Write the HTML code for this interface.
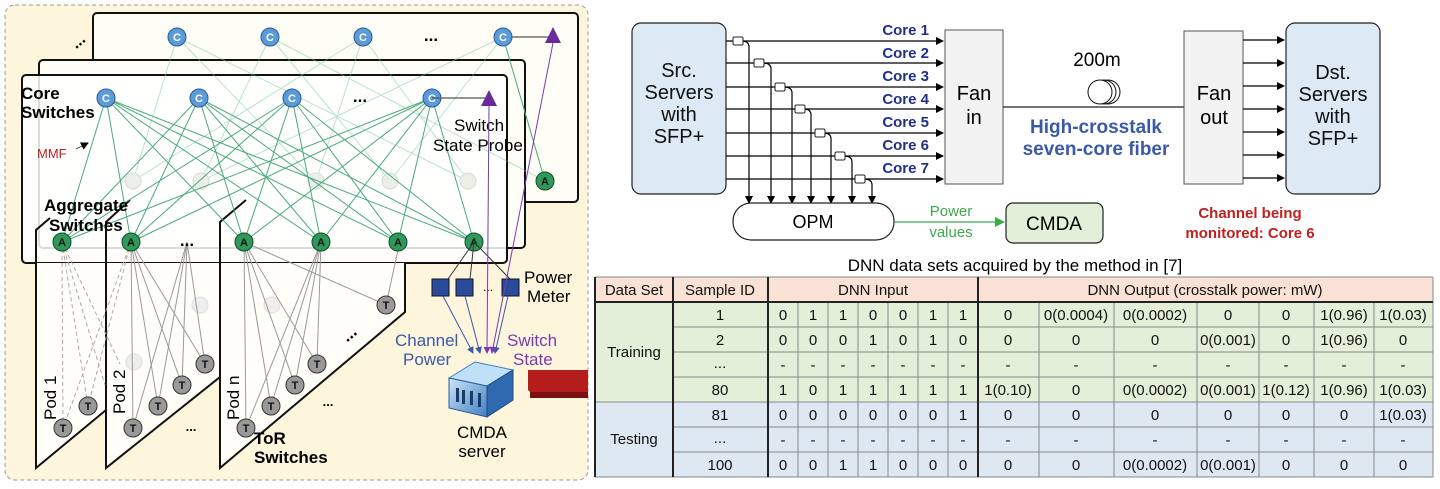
<!DOCTYPE html>
<html><head><meta charset="utf-8"><style>
html,body{margin:0;padding:0;background:#fff;}
svg{display:block;font-family:"Liberation Sans",Arial,sans-serif;}
.tb{font-family:"Liberation Sans Narrow","Liberation Sans",Arial,sans-serif;}
</style></head><body>
<svg width="1440" height="489" viewBox="0 0 1440 489" xmlns="http://www.w3.org/2000/svg">
<defs>
<marker id="ab" markerWidth="8" markerHeight="8" refX="7" refY="4" orient="auto" markerUnits="userSpaceOnUse"><path d="M0,0 L8,4 L0,8 z" fill="#000"/></marker>
<marker id="ag" markerWidth="10" markerHeight="10" refX="9" refY="5" orient="auto" markerUnits="userSpaceOnUse"><path d="M0,0 L10,5 L0,10 z" fill="#3aaa4a"/></marker>
<marker id="abl" markerWidth="7" markerHeight="7" refX="6" refY="3.5" orient="auto" markerUnits="userSpaceOnUse"><path d="M0,0 L7,3.5 L0,7 z" fill="#3a5aaa"/></marker>
<marker id="ap" markerWidth="7" markerHeight="7" refX="6" refY="3.5" orient="auto" markerUnits="userSpaceOnUse"><path d="M0,0 L7,3.5 L0,7 z" fill="#7a3ab0"/></marker>
<linearGradient id="srv" x1="0" y1="0" x2="1" y2="1"><stop offset="0" stop-color="#cfe6f7"/><stop offset="1" stop-color="#3f7fc0"/></linearGradient>
</defs>

<!-- LEFT PANEL -->
<rect x="5" y="5" width="583" height="475" rx="10" fill="#fdf5dc" stroke="#999" stroke-dasharray="4,3"/>
<rect x="93" y="13" width="485" height="189" rx="4" fill="#fffef6" stroke="#111" stroke-width="2"/>
<text x="72" y="48" font-size="16" font-weight="bold" transform="rotate(-40 76 43)">...</text>
<rect x="39" y="60" width="486" height="188" rx="4" fill="#fffef6" stroke="#111" stroke-width="2"/>
<rect x="22" y="75" width="485" height="188" rx="4" fill="#ffffff" fill-opacity="0.85" stroke="#111" stroke-width="2"/>

<g stroke="#7cc4a0" stroke-width="1" opacity="0.5">
<line x1="177" y1="37" x2="133" y2="181"/><line x1="177" y1="37" x2="316" y2="181"/><line x1="177" y1="37" x2="468" y2="181"/>
<line x1="270" y1="37" x2="201" y2="181"/><line x1="270" y1="37" x2="390" y2="181"/><line x1="270" y1="37" x2="545" y2="181"/>
<line x1="363" y1="37" x2="133" y2="181"/><line x1="363" y1="37" x2="316" y2="181"/><line x1="363" y1="37" x2="468" y2="181"/>
<line x1="503" y1="37" x2="201" y2="181"/><line x1="503" y1="37" x2="390" y2="181"/><line x1="503" y1="37" x2="545" y2="181"/>
</g>
<g fill="#eceee8" stroke="#d8dcd6"><circle cx="133" cy="181" r="8"/><circle cx="201" cy="181" r="8"/><circle cx="316" cy="181" r="8"/><circle cx="390" cy="181" r="8"/><circle cx="468" cy="181" r="8"/></g>
<line x1="503" y1="37" x2="550" y2="37" stroke="#555" stroke-width="1.2"/>
<polygon points="553,27 545,43 561,43" fill="#6a2a9a"/>

<!-- pods -->
<polygon points="36,263 106,263 106,410 36,468" fill="#fffef8"/>
<path d="M50,218 L36,230 L36,468 L106,410" fill="none" stroke="#111" stroke-width="2"/>
<polygon points="106,263 220,263 220,377 106,468" fill="#fffef8"/>
<path d="M130,200 L106,222 L106,468 L220,377" fill="none" stroke="#111" stroke-width="2"/>
<polygon points="220,263 405,263 405,312 220,468" fill="#fffef8"/>
<path d="M246,200 L220,222 L220,468 L405,312 L405,263" fill="none" stroke="#111" stroke-width="2"/>

<g fill="#eee" stroke="#ddd"><circle cx="200" cy="305" r="8"/><circle cx="272" cy="305" r="8"/><circle cx="134" cy="362" r="8"/></g>
<g stroke="#aaa" stroke-width="1" stroke-dasharray="4,3">
<line x1="62" y1="242" x2="63" y2="428"/><line x1="62" y1="242" x2="88" y2="406"/><line x1="62" y1="242" x2="105" y2="385"/><line x1="62" y1="242" x2="120" y2="364"/>
<line x1="131" y1="242" x2="63" y2="428"/><line x1="131" y1="242" x2="88" y2="406"/>
</g>
<g stroke="#999" stroke-width="1">
<line x1="131" y1="242" x2="133" y2="428"/><line x1="131" y1="242" x2="158" y2="406"/><line x1="131" y1="242" x2="182" y2="385"/><line x1="131" y1="242" x2="205" y2="364"/>
<line x1="187" y1="242" x2="133" y2="428"/><line x1="187" y1="242" x2="158" y2="406"/><line x1="187" y1="242" x2="182" y2="385"/><line x1="187" y1="242" x2="205" y2="364"/>
<line x1="244" y1="242" x2="246" y2="428"/><line x1="244" y1="242" x2="271" y2="406"/><line x1="244" y1="242" x2="295" y2="385"/><line x1="244" y1="242" x2="317" y2="364"/><line x1="244" y1="242" x2="386" y2="305"/>
<line x1="321" y1="242" x2="246" y2="428"/><line x1="321" y1="242" x2="271" y2="406"/><line x1="321" y1="242" x2="295" y2="385"/><line x1="321" y1="242" x2="317" y2="364"/>
<line x1="386" y1="305" x2="398" y2="250"/>
</g>
<g fill="#999" stroke="#333" stroke-width="1">
<circle cx="63" cy="428" r="9"/><circle cx="88" cy="406" r="9"/>
<circle cx="133" cy="428" r="9"/><circle cx="158" cy="406" r="9"/><circle cx="182" cy="385" r="9"/><circle cx="205" cy="364" r="9"/>
<circle cx="246" cy="428" r="9"/><circle cx="271" cy="406" r="9"/><circle cx="295" cy="385" r="9"/><circle cx="317" cy="364" r="9"/><circle cx="386" cy="305" r="9"/>
</g>
<g font-size="11" font-weight="bold" text-anchor="middle" fill="#111">
<text x="63" y="432">T</text><text x="88" y="410">T</text><text x="133" y="432">T</text><text x="158" y="410">T</text><text x="182" y="389">T</text><text x="205" y="368">T</text>
<text x="246" y="432">T</text><text x="271" y="410">T</text><text x="295" y="389">T</text><text x="317" y="368">T</text><text x="386" y="309">T</text>
</g>

<g stroke="#4aaa7a" stroke-width="1">
<line x1="106" y1="98" x2="62" y2="242"/><line x1="106" y1="98" x2="131" y2="242"/><line x1="106" y1="98" x2="244" y2="242"/><line x1="106" y1="98" x2="321" y2="242"/><line x1="106" y1="98" x2="398" y2="242"/><line x1="106" y1="98" x2="474" y2="242"/>
<line x1="199" y1="98" x2="62" y2="242"/><line x1="199" y1="98" x2="131" y2="242"/><line x1="199" y1="98" x2="244" y2="242"/><line x1="199" y1="98" x2="321" y2="242"/><line x1="199" y1="98" x2="398" y2="242"/><line x1="199" y1="98" x2="474" y2="242"/>
<line x1="292" y1="98" x2="62" y2="242"/><line x1="292" y1="98" x2="131" y2="242"/><line x1="292" y1="98" x2="244" y2="242"/><line x1="292" y1="98" x2="321" y2="242"/><line x1="292" y1="98" x2="398" y2="242"/><line x1="292" y1="98" x2="474" y2="242"/>
<line x1="432" y1="98" x2="62" y2="242"/><line x1="432" y1="98" x2="131" y2="242"/><line x1="432" y1="98" x2="244" y2="242"/><line x1="432" y1="98" x2="321" y2="242"/><line x1="432" y1="98" x2="398" y2="242"/><line x1="432" y1="98" x2="474" y2="242"/>
<line x1="503" y1="37" x2="545" y2="181"/>
</g>
<g fill="#5b9bd8" stroke="#2a5a9a" stroke-width="1">
<circle cx="177" cy="37" r="9"/><circle cx="270" cy="37" r="9"/><circle cx="363" cy="37" r="9"/><circle cx="503" cy="37" r="9"/>
<circle cx="106" cy="98" r="9"/><circle cx="199" cy="98" r="9"/><circle cx="292" cy="98" r="9"/><circle cx="432" cy="98" r="9"/>
</g>
<g font-size="11" font-weight="bold" text-anchor="middle" fill="#fff">
<text x="177" y="41">C</text><text x="270" y="41">C</text><text x="363" y="41">C</text><text x="503" y="41">C</text>
<text x="106" y="102">C</text><text x="199" y="102">C</text><text x="292" y="102">C</text><text x="432" y="102">C</text>
</g>
<text x="431" y="41" font-size="17" font-weight="bold" text-anchor="middle">...</text>
<text x="360" y="102" font-size="17" font-weight="bold" text-anchor="middle">...</text>
<line x1="432" y1="98" x2="485" y2="98" stroke="#555" stroke-width="1.2"/>
<polygon points="489,90 481,106 497,106" fill="#6a2a9a"/>
<g fill="#2e9a5a" stroke="#134a28" stroke-width="1">
<circle cx="62" cy="242" r="9"/><circle cx="131" cy="242" r="9"/><circle cx="244" cy="242" r="9"/><circle cx="321" cy="242" r="9"/><circle cx="398" cy="242" r="9"/><circle cx="474" cy="242" r="9"/><circle cx="545" cy="181" r="9"/>
</g>
<g font-size="11" font-weight="bold" text-anchor="middle" fill="#111">
<text x="62" y="246">A</text><text x="131" y="246">A</text><text x="244" y="246">A</text><text x="321" y="246">A</text><text x="398" y="246">A</text><text x="474" y="246">A</text><text x="545" y="185">A</text>
</g>
<text x="187" y="246" font-size="17" font-weight="bold" text-anchor="middle">...</text>

<text x="21" y="99" font-size="17" font-weight="bold">Core</text>
<text x="21" y="118" font-size="17" font-weight="bold">Switches</text>
<text x="37" y="158" font-size="13" fill="#c02020">MMF</text>
<line x1="76" y1="149" x2="88" y2="143" stroke="#333" stroke-width="0.8" marker-end="url(#ab)"/>
<text x="454" y="131" font-size="17">Switch</text>
<text x="433" y="151" font-size="17">State Probe</text>
<text x="44" y="211" font-size="17" font-weight="bold">Aggregate</text>
<text x="49" y="231" font-size="17" font-weight="bold">Switches</text>
<text x="254" y="444" font-size="17" font-weight="bold">ToR</text>
<text x="254" y="463" font-size="17" font-weight="bold">Switches</text>
<text font-size="17" transform="translate(56,420) rotate(-90)">Pod 1</text>
<text font-size="17" transform="translate(125,414) rotate(-90)">Pod 2</text>
<text font-size="17" transform="translate(239,420) rotate(-90)">Pod n</text>
<text x="191" y="431" font-size="13" font-weight="bold" text-anchor="middle">...</text>
<text x="328" y="406" font-size="13" font-weight="bold" text-anchor="middle">...</text>
<text x="350" y="339" font-size="17" font-weight="bold" text-anchor="middle" transform="rotate(-40 350 335)">...</text>

<g stroke="#333" stroke-width="1"><line x1="474" y1="242" x2="448" y2="279"/><line x1="474" y1="242" x2="470" y2="279"/><line x1="474" y1="242" x2="510" y2="279"/></g>
<g fill="#2a4a9a" stroke="#112"><rect x="432" y="279" width="17" height="17"/><rect x="456" y="279" width="17" height="17"/><rect x="502" y="279" width="17" height="17"/></g>
<text x="488" y="291" font-size="12" text-anchor="middle">...</text>
<text x="524" y="283" font-size="17">Power</text>
<text x="527" y="302" font-size="17">Meter</text>
<g stroke="#3a5aaa" stroke-width="1"><line x1="443" y1="296" x2="473" y2="353" marker-end="url(#abl)"/><line x1="465" y1="296" x2="480" y2="353" marker-end="url(#abl)"/><line x1="508" y1="296" x2="495" y2="353" marker-end="url(#abl)"/></g>
<g stroke="#7a3ab0" stroke-width="1"><line x1="489" y1="106" x2="487" y2="353" marker-end="url(#ap)"/><line x1="553" y1="43" x2="492" y2="353" marker-end="url(#ap)"/></g>
<text x="395" y="346" font-size="17" fill="#3a5aaa">Channel</text>
<text x="403" y="365" font-size="17" fill="#3a5aaa">Power</text>
<text x="507" y="346" font-size="17" fill="#7a3ab0">Switch</text>
<text x="513" y="365" font-size="17" fill="#7a3ab0">State</text>
<polygon points="449,378 475,362 513,370 487,386" fill="#bfe0f7" stroke="#3f7fc0"/>
<polygon points="449,378 487,386 487,417 449,408" fill="url(#srv)" stroke="#2a5a9a"/>
<polygon points="487,386 513,370 513,400 487,417" fill="#2f6ab0" stroke="#1a4a80"/>
<g fill="#1a3a6a"><rect x="456" y="388" width="3" height="14"/><rect x="462" y="390" width="3" height="14"/><rect x="470" y="391" width="3" height="14"/><rect x="478" y="393" width="3" height="14"/></g>
<text x="482" y="438" font-size="17" text-anchor="middle">CMDA</text>
<text x="482" y="457" font-size="17" text-anchor="middle">server</text>
<polygon points="528,370 588,370 588,398 536,398 528,390" fill="#b51c1c"/>
<rect x="530" y="392" width="58" height="6" fill="#7a1010"/>

<!-- TOP RIGHT DIAGRAM -->
<rect x="632" y="23" width="94" height="171" rx="9" fill="#dde9f5" stroke="#222" stroke-width="1.2"/>
<g font-size="20" text-anchor="middle" fill="#111"><text x="679" y="77">Src.</text><text x="679" y="99">Servers</text><text x="679" y="121">with</text><text x="679" y="143">SFP+</text></g>
<rect x="945" y="30" width="58" height="154" fill="#f2f2f2" stroke="#555"/>
<g font-size="20" text-anchor="middle"><text x="974" y="100">Fan</text><text x="974" y="124">in</text></g>
<g stroke="#000" stroke-width="1.2" fill="none">
<line x1="726" y1="41" x2="943" y2="41" marker-end="url(#ab)"/>
<line x1="726" y1="63" x2="943" y2="63" marker-end="url(#ab)"/>
<line x1="726" y1="87" x2="943" y2="87" marker-end="url(#ab)"/>
<line x1="726" y1="109" x2="943" y2="109" marker-end="url(#ab)"/>
<line x1="726" y1="133" x2="943" y2="133" marker-end="url(#ab)"/>
<line x1="726" y1="156" x2="943" y2="156" marker-end="url(#ab)"/>
<line x1="726" y1="179" x2="943" y2="179" marker-end="url(#ab)"/>
<path d="M742,41 Q749,41 749,47 L749,203" marker-end="url(#ab)"/>
<path d="M763,63 Q771,63 771,69 L771,203" marker-end="url(#ab)"/>
<path d="M784,87 Q792,87 792,93 L792,203" marker-end="url(#ab)"/>
<path d="M804,109 Q811,109 811,115 L811,203" marker-end="url(#ab)"/>
<path d="M824,133 Q831,133 831,139 L831,203" marker-end="url(#ab)"/>
<path d="M844,156 Q852,156 852,162 L852,203" marker-end="url(#ab)"/>
<path d="M864,179 Q872,179 872,185 L872,203" marker-end="url(#ab)"/>
</g>
<g fill="#fff" stroke="#222"><rect x="733" y="37" width="10" height="8" rx="1.5"/><rect x="754" y="59" width="10" height="8" rx="1.5"/><rect x="775" y="83" width="10" height="8" rx="1.5"/><rect x="795" y="105" width="10" height="8" rx="1.5"/><rect x="815" y="129" width="10" height="8" rx="1.5"/><rect x="835" y="152" width="10" height="8" rx="1.5"/><rect x="855" y="175" width="10" height="8" rx="1.5"/></g>
<g font-size="15" font-weight="bold" fill="#1f2f8f" text-anchor="end">
<text x="929" y="35">Core 1</text><text x="929" y="58">Core 2</text><text x="929" y="81">Core 3</text><text x="929" y="104">Core 4</text><text x="929" y="127">Core 5</text><text x="929" y="150">Core 6</text><text x="929" y="173">Core 7</text>
</g>
<rect x="733" y="203" width="161" height="37" rx="18" fill="#fff" stroke="#222" stroke-width="1.2"/>
<text x="813" y="228" font-size="18" text-anchor="middle">OPM</text>
<line x1="894" y1="222" x2="1004" y2="222" stroke="#3aaa4a" stroke-width="1.2" marker-end="url(#ag)"/>
<text x="951" y="216" font-size="15" fill="#3aaa4a" text-anchor="middle">Power</text>
<text x="951" y="237" font-size="15" fill="#3aaa4a" text-anchor="middle">values</text>
<rect x="1006" y="203" width="97" height="40" rx="7" fill="#e4efda" stroke="#222" stroke-width="1.2"/>
<text x="1054" y="230" font-size="19" text-anchor="middle">CMDA</text>

<line x1="1003" y1="107" x2="1184" y2="107" stroke="#222" stroke-width="1.2"/>
<g fill="none" stroke="#111" stroke-width="1"><circle cx="1108" cy="92" r="12"/><circle cx="1104" cy="92" r="12"/><circle cx="1100" cy="92" r="12" fill="#fff"/></g>
<text x="1097" y="66" font-size="19" text-anchor="middle">200m</text>
<text x="1096" y="133" font-size="19" font-weight="bold" fill="#3a5aa8" text-anchor="middle">High-crosstalk</text>
<text x="1096" y="155" font-size="19" font-weight="bold" fill="#3a5aa8" text-anchor="middle">seven-core fiber</text>
<rect x="1184" y="31" width="59" height="153" fill="#f2f2f2" stroke="#555"/>
<g font-size="20" text-anchor="middle"><text x="1214" y="100">Fan</text><text x="1214" y="124">out</text></g>
<g stroke="#000" stroke-width="1.2">
<line x1="1243" y1="40" x2="1284" y2="40" marker-end="url(#ab)"/><line x1="1243" y1="63" x2="1284" y2="63" marker-end="url(#ab)"/><line x1="1243" y1="86" x2="1284" y2="86" marker-end="url(#ab)"/><line x1="1243" y1="109" x2="1284" y2="109" marker-end="url(#ab)"/><line x1="1243" y1="132" x2="1284" y2="132" marker-end="url(#ab)"/><line x1="1243" y1="155" x2="1284" y2="155" marker-end="url(#ab)"/><line x1="1243" y1="178" x2="1284" y2="178" marker-end="url(#ab)"/>
</g>
<rect x="1286" y="23" width="94" height="171" rx="9" fill="#dde9f5" stroke="#222" stroke-width="1.2"/>
<g font-size="20" text-anchor="middle" fill="#111"><text x="1333" y="79">Dst.</text><text x="1333" y="101">Servers</text><text x="1333" y="123">with</text><text x="1333" y="145">SFP+</text></g>
<text x="1250" y="218" font-size="15" font-weight="bold" fill="#c02020" text-anchor="middle">Channel being</text>
<text x="1250" y="238" font-size="15" font-weight="bold" fill="#c02020" text-anchor="middle">monitored: Core 6</text>

<!-- TABLE -->
<text x="1015" y="271" font-size="17" text-anchor="middle">DNN data sets acquired by the method in [7]</text>
<rect x="595" y="277" width="838" height="25" fill="#f9e1d5"/>
<rect x="595" y="302" width="838" height="100" fill="#e4efda"/>
<rect x="595" y="402" width="838" height="75" fill="#dde8f3"/>
<g stroke="#888" stroke-width="1">
<line x1="673" y1="327" x2="1433" y2="327"/><line x1="673" y1="352" x2="1433" y2="352"/><line x1="673" y1="377" x2="1433" y2="377"/><line x1="595" y1="402" x2="1433" y2="402"/><line x1="673" y1="427" x2="1433" y2="427"/><line x1="673" y1="452" x2="1433" y2="452"/><line x1="595" y1="477" x2="1433" y2="477"/>
<line x1="798" y1="302" x2="798" y2="477"/><line x1="828" y1="302" x2="828" y2="477"/><line x1="858" y1="302" x2="858" y2="477"/><line x1="888" y1="302" x2="888" y2="477"/><line x1="918" y1="302" x2="918" y2="477"/><line x1="948" y1="302" x2="948" y2="477"/>
<line x1="1039" y1="302" x2="1039" y2="477"/><line x1="1114" y1="302" x2="1114" y2="477"/><line x1="1197" y1="302" x2="1197" y2="477"/><line x1="1259" y1="302" x2="1259" y2="477"/><line x1="1314" y1="302" x2="1314" y2="477"/><line x1="1374" y1="302" x2="1374" y2="477"/>
<line x1="1433" y1="277" x2="1433" y2="477"/><line x1="595" y1="277" x2="1433" y2="277"/>
</g>
<g stroke="#222" stroke-width="2"><line x1="595" y1="302" x2="1433" y2="302"/><line x1="673" y1="277" x2="673" y2="477"/><line x1="768" y1="277" x2="768" y2="477"/><line x1="978" y1="277" x2="978" y2="477"/><line x1="595" y1="277" x2="595" y2="477"/></g>
<g class="tb" font-size="15" text-anchor="middle" fill="#111">
<text x="634" y="295">Data Set</text><text x="720" y="295">Sample ID</text><text x="873" y="295">DNN Input</text><text x="1205" y="295">DNN Output (crosstalk power: mW)</text>
<text x="634" y="357">Training</text><text x="634" y="444">Testing</text>
<text x="720" y="320">1</text><text x="720" y="345">2</text><text x="720" y="368">...</text><text x="720" y="395">80</text><text x="720" y="420">81</text><text x="720" y="443">...</text><text x="720" y="470">100</text>
<text x="783" y="320">0</text><text x="813" y="320">1</text><text x="843" y="320">1</text><text x="873" y="320">0</text><text x="903" y="320">0</text><text x="933" y="320">1</text><text x="963" y="320">1</text>
<text x="1008" y="320">0</text><text x="1076" y="320">0(0.0004)</text><text x="1155" y="320">0(0.0002)</text><text x="1228" y="320">0</text><text x="1286" y="320">0</text><text x="1344" y="320">1(0.96)</text><text x="1403" y="320">1(0.03)</text>
<text x="783" y="345">0</text><text x="813" y="345">0</text><text x="843" y="345">0</text><text x="873" y="345">1</text><text x="903" y="345">0</text><text x="933" y="345">1</text><text x="963" y="345">0</text>
<text x="1008" y="345">0</text><text x="1076" y="345">0</text><text x="1155" y="345">0</text><text x="1228" y="345">0(0.001)</text><text x="1286" y="345">0</text><text x="1344" y="345">1(0.96)</text><text x="1403" y="345">0</text>
<text x="783" y="370">-</text><text x="813" y="370">-</text><text x="843" y="370">-</text><text x="873" y="370">-</text><text x="903" y="370">-</text><text x="933" y="370">-</text><text x="963" y="370">-</text>
<text x="1008" y="370">-</text><text x="1076" y="370">-</text><text x="1155" y="370">-</text><text x="1228" y="370">-</text><text x="1286" y="370">-</text><text x="1344" y="370">-</text><text x="1403" y="370">-</text>
<text x="783" y="395">1</text><text x="813" y="395">0</text><text x="843" y="395">1</text><text x="873" y="395">1</text><text x="903" y="395">1</text><text x="933" y="395">1</text><text x="963" y="395">1</text>
<text x="1008" y="395">1(0.10)</text><text x="1076" y="395">0</text><text x="1155" y="395">0(0.0002)</text><text x="1228" y="395">0(0.001)</text><text x="1286" y="395">1(0.12)</text><text x="1344" y="395">1(0.96)</text><text x="1403" y="395">1(0.03)</text>
<text x="783" y="420">0</text><text x="813" y="420">0</text><text x="843" y="420">0</text><text x="873" y="420">0</text><text x="903" y="420">0</text><text x="933" y="420">0</text><text x="963" y="420">1</text>
<text x="1008" y="420">0</text><text x="1076" y="420">0</text><text x="1155" y="420">0</text><text x="1228" y="420">0</text><text x="1286" y="420">0</text><text x="1344" y="420">0</text><text x="1403" y="420">1(0.03)</text>
<text x="783" y="445">-</text><text x="813" y="445">-</text><text x="843" y="445">-</text><text x="873" y="445">-</text><text x="903" y="445">-</text><text x="933" y="445">-</text><text x="963" y="445">-</text>
<text x="1008" y="445">-</text><text x="1076" y="445">-</text><text x="1155" y="445">-</text><text x="1228" y="445">-</text><text x="1286" y="445">-</text><text x="1344" y="445">-</text><text x="1403" y="445">-</text>
<text x="783" y="470">0</text><text x="813" y="470">0</text><text x="843" y="470">1</text><text x="873" y="470">1</text><text x="903" y="470">0</text><text x="933" y="470">0</text><text x="963" y="470">0</text>
<text x="1008" y="470">0</text><text x="1076" y="470">0</text><text x="1155" y="470">0(0.0002)</text><text x="1228" y="470">0(0.001)</text><text x="1286" y="470">0</text><text x="1344" y="470">0</text><text x="1403" y="470">0</text>
</g>
</svg>
</body></html>
